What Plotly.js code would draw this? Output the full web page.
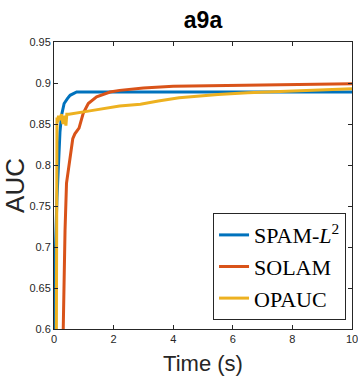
<!DOCTYPE html>
<html>
<head>
<meta charset="utf-8">
<script src="https://cdn.plot.ly/plotly-3.0.1.min.js"></script>
<style>
html,body{margin:0;padding:0;background:#fff;}
#chart{width:358px;height:382px;}
</style>
</head>
<body>
<div id="chart"></div>
<script>
// SPAM-L2
var spamX = [0.03, 0.05, 0.1, 0.15, 0.17, 0.2, 0.25, 0.34, 0.45, 0.54, 0.65, 0.76, 1, 2, 4, 6, 8, 10];
var spamY = [0.6, 0.7, 0.76, 0.8, 0.818, 0.84, 0.86, 0.875, 0.881, 0.885, 0.887, 0.889, 0.889, 0.889, 0.889, 0.889, 0.889, 0.889];
// SOLAM
var solamX = [0.31, 0.35, 0.37, 0.42, 0.54, 0.63, 0.7, 0.84, 0.98, 1.15, 1.43, 1.88, 2.2, 3, 4, 6, 8, 10];
var solamY = [0.6, 0.708, 0.72, 0.778, 0.806, 0.832, 0.838, 0.845, 0.863, 0.875, 0.883, 0.889, 0.891, 0.894, 0.896, 0.897, 0.898, 0.899];
// OPAUC
var opaucX = [0.08, 0.09, 0.1, 0.12, 0.15, 0.2, 0.25, 0.3, 0.35, 0.4, 0.43, 0.5, 0.8, 1.2, 2.2, 2.9, 3.5, 4.2, 4.9, 5.5, 6.5, 8, 10];
var opaucY = [0.6, 0.85, 0.858, 0.852, 0.86, 0.855, 0.862, 0.85, 0.86, 0.848, 0.862, 0.862, 0.864, 0.866, 0.872, 0.874, 0.878, 0.882, 0.884, 0.886, 0.888, 0.890, 0.893];

var xTicks = [0, 2, 4, 6, 8, 10];
var yTicks = [0.6, 0.65, 0.7, 0.75, 0.8, 0.85, 0.9, 0.95];
var yTickText = ['0.6', '0.65', '0.7', '0.75', '0.8', '0.85', '0.9', '0.95'];

var names = ['SPAM-<i>L</i><sup>2</sup>', 'SOLAM', 'OPAUC'];
var colors = ['#0072BD', '#D95319', '#EDB120'];

var traces = [
  {x: spamX, y: spamY, name: names[0], mode: 'lines', line: {color: colors[0], width: 3}},
  {x: solamX, y: solamY, name: names[1], mode: 'lines', line: {color: colors[1], width: 3}},
  {x: opaucX, y: opaucY, name: names[2], mode: 'lines', line: {color: colors[2], width: 3}}
];

var sans = 'Liberation Sans, Arial, sans-serif';
var tickFont = {family: sans, size: 11, color: '#262626'};
var axisCommon = {
  showgrid: false, zeroline: false, showline: true, linecolor: '#262626', linewidth: 1,
  mirror: 'ticks', ticks: 'inside', ticklen: 4, tickcolor: '#262626', tickwidth: 1,
  tickfont: tickFont, automargin: false, ticklabeloverflow: 'allow'
};

var layout = {
  width: 358, height: 382,
  margin: {l: 54, r: 6, t: 42, b: 53},
  paper_bgcolor: '#fff', plot_bgcolor: '#fff',
  title: {text: '<b>a9a</b>', x: 0.5, xref: 'paper', y: 0.947, yanchor: 'middle',
          font: {family: sans, size: 23, color: '#000'}},
  xaxis: Object.assign({}, axisCommon, {
    range: [0, 10], tickvals: xTicks, ticktext: xTicks.map(String),
    title: {text: 'Time (s)', standoff: 11, font: {family: sans, size: 22, color: '#262626'}}
  }),
  yaxis: Object.assign({}, axisCommon, {
    range: [0.6, 0.95], tickvals: yTicks, ticktext: yTickText,
    title: {text: 'AUC', standoff: 6, font: {family: sans, size: 26, color: '#262626'}}
  }),
  showlegend: true,
  legend: {
    x: 0.98, y: 0.031, xanchor: 'right', yanchor: 'bottom',
    bgcolor: '#fff', bordercolor: '#262626', borderwidth: 1,
    font: {family: 'Liberation Serif, serif', size: 22, color: '#000'},
    tracegroupgap: 0
  }
};

Plotly.newPlot('chart', traces, layout, {displayModeBar: false, staticPlot: true});
</script>
</body>
</html>
